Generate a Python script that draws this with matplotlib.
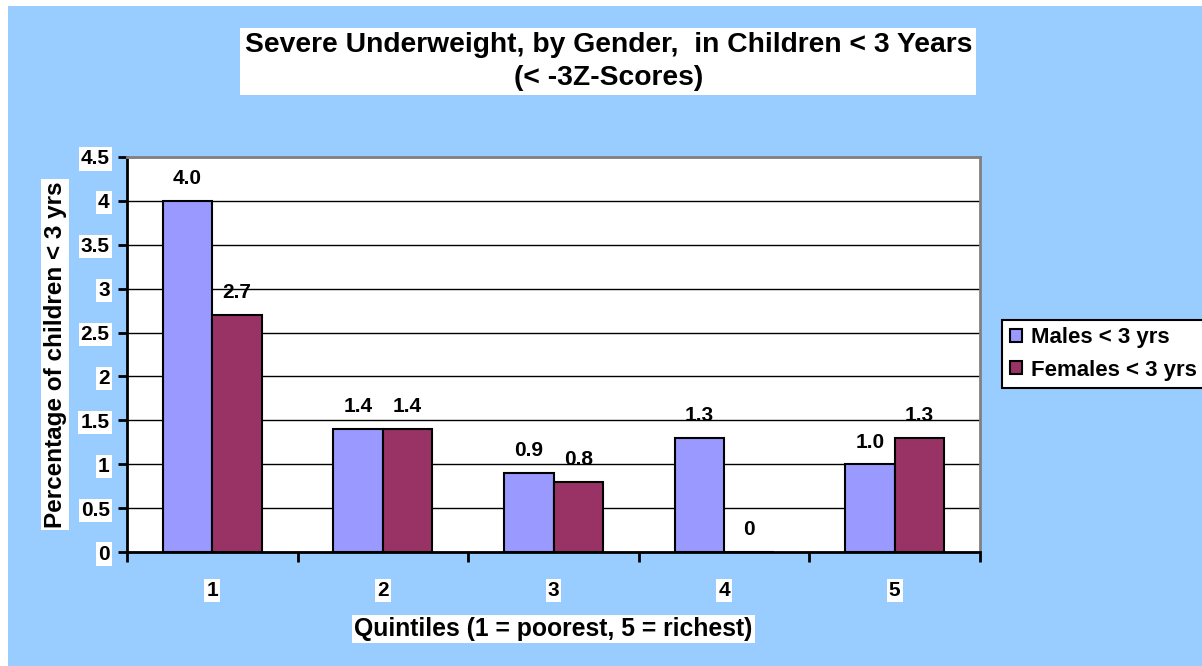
import matplotlib.pyplot as plt
import numpy as np

plt.rcParams['font.family'] = ['Liberation Sans', 'DejaVu Sans']
plt.rcParams['font.weight'] = 'bold'

# data
quintiles = ['1', '2', '3', '4', '5']
males = [4.0, 1.4, 0.9, 1.3, 1.0]
females = [2.7, 1.4, 0.8, 0.0, 1.3]
male_labels = ['4.0', '1.4', '0.9', '1.3', '1.0']
female_labels = ['2.7', '1.4', '0.8', '0', '1.3']
yticks = [0, 0.5, 1, 1.5, 2, 2.5, 3, 3.5, 4, 4.5]
ytick_labels = ['0', '0.5', '1', '1.5', '2', '2.5', '3', '3.5', '4', '4.5']

bg = '#99CCFF'
male_col = '#9999FF'
female_col = '#993366'
white_box = dict(facecolor='white', edgecolor='none', pad=1.5)

fig = plt.figure(figsize=(12.02, 6.66), dpi=100)
fig.patch.set_facecolor('white')
# blue chart area, leaving a thin white strip at top and left
fig.patches.append(plt.Rectangle((8 / 1202, 0), 1, 1 - 6 / 666, transform=fig.transFigure,
                                 facecolor=bg, edgecolor='none', zorder=-5))

ax = fig.add_axes([127 / 1202, 114 / 666, 853 / 1202, 395 / 666])
ax.set_facecolor('white')

x = np.arange(len(quintiles))
w = 0.29
b1 = ax.bar(x - w / 2, males, w, color=male_col, edgecolor='black', linewidth=1.5,
            label='Males < 3 yrs', zorder=3)
b2 = ax.bar(x + w / 2, females, w, color=female_col, edgecolor='black', linewidth=1.5,
            label='Females < 3 yrs', zorder=3)

for bars, labs in [(b1, male_labels), (b2, female_labels)]:
    for r, t in zip(bars, labs):
        ax.annotate(t, (r.get_x() + r.get_width() / 2, r.get_height()),
                    xytext=(0, 16), textcoords='offset points', ha='center', va='center',
                    fontsize=15, fontweight='bold')

ax.set_xlim(-0.5, len(quintiles) - 0.5)
ax.set_ylim(0, 4.5)
ax.set_yticks(yticks)
ax.set_yticklabels(ytick_labels)
ax.yaxis.grid(True, color='black', linewidth=1)
ax.set_axisbelow(True)

ax.set_xticks(x)
ax.set_xticklabels(quintiles)
ax.set_xticks(np.arange(len(quintiles) + 1) - 0.5, minor=True)
ax.tick_params(axis='x', which='major', length=0, pad=21, labelsize=15)
ax.tick_params(axis='x', which='minor', length=7, width=2, direction='out')
ax.tick_params(axis='y', length=6.5, width=2, direction='out', pad=6, labelsize=15)

for lab in ax.get_xticklabels() + ax.get_yticklabels():
    lab.set_fontweight('bold')
    lab.set_bbox(white_box)

for side in ['left', 'bottom']:
    ax.spines[side].set_color('black')
    ax.spines[side].set_linewidth(2)
for side in ['top', 'right']:
    ax.spines[side].set_color('#808080')
    ax.spines[side].set_linewidth(2)

ax.set_xlabel('Quintiles (1 = poorest, 5 = richest)', fontsize=17.8, fontweight='bold',
              labelpad=12, bbox=white_box)
ax.set_ylabel('Percentage of children < 3 yrs', fontsize=17.5, fontweight='bold',
              labelpad=10, bbox=white_box)

fig.text(0.506, 0.9077, 'Severe Underweight, by Gender,  in Children < 3 Years\n(< -3Z-Scores)',
         ha='center', va='center', fontsize=20.3, fontweight='bold', linespacing=1.32,
         bbox=dict(facecolor='white', edgecolor='none', pad=3))

leg = ax.legend(loc='center left', bbox_to_anchor=(1002 / 1202, 312 / 666),
                bbox_transform=fig.transFigure, fontsize=16, frameon=True, fancybox=False,
                framealpha=1, handlelength=0.55, handleheight=0.55, handletextpad=0.4,
                borderpad=0.35, labelspacing=0.5, borderaxespad=0)
leg.get_frame().set_facecolor('white')
leg.get_frame().set_edgecolor('black')
leg.get_frame().set_linewidth(1.5)
for t in leg.get_texts():
    t.set_fontweight('bold')

fig.savefig('out.png', dpi=100, facecolor=fig.get_facecolor())
